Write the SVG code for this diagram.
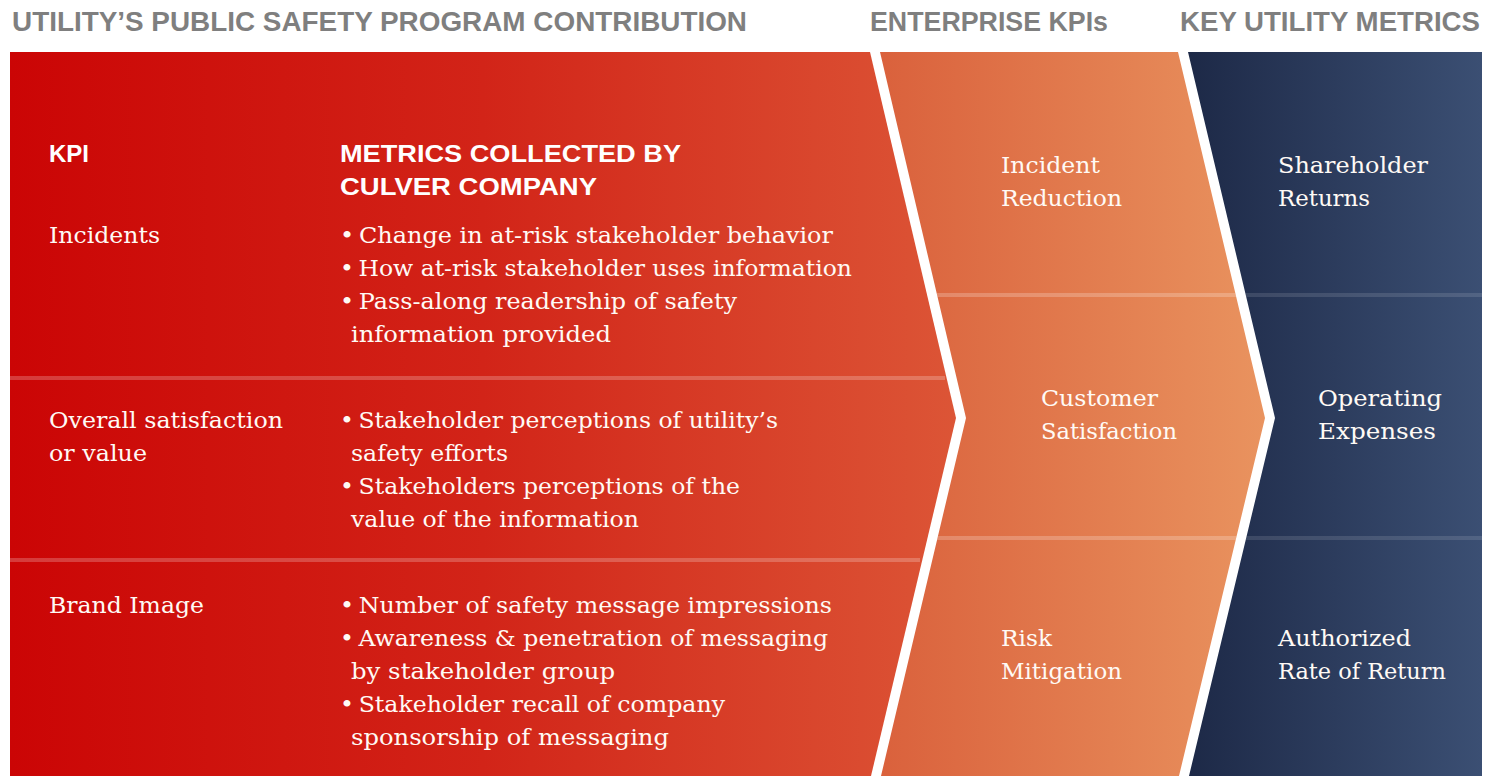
<svg xmlns="http://www.w3.org/2000/svg" width="1486" height="776" viewBox="0 0 1486 776">
  <defs>
    <linearGradient id="gRed" x1="10" y1="0" x2="956" y2="0" gradientUnits="userSpaceOnUse">
      <stop offset="0" stop-color="#cb0505"/>
      <stop offset="0.5" stop-color="#d22418"/>
      <stop offset="1" stop-color="#dc5536"/>
    </linearGradient>
    <linearGradient id="gOrange" x1="880" y1="0" x2="1265" y2="0" gradientUnits="userSpaceOnUse">
      <stop offset="0" stop-color="#da613c"/>
      <stop offset="1" stop-color="#e9935f"/>
    </linearGradient>
    <linearGradient id="gNavy" x1="1188" y1="0" x2="1482" y2="0" gradientUnits="userSpaceOnUse">
      <stop offset="0" stop-color="#1d2947"/>
      <stop offset="1" stop-color="#3b4f73"/>
    </linearGradient>
    <clipPath id="cRed"><polygon points="10,52 870,52 956,418 871,776 10,776"/></clipPath>
    <clipPath id="cOrange"><polygon points="880,52 1178,52 1265,418 1179,776 881,776 966,418"/></clipPath>
    <clipPath id="cNavy"><polygon points="1188,52 1482,52 1482,776 1189,776 1275,418"/></clipPath>
  </defs>
  <style>
    .hdr { font-family: "Liberation Sans", Arial, sans-serif; font-weight: bold; font-size: 27px; fill: #7f7f7f; }
    .colh { font-family: "Liberation Sans", Arial, sans-serif; font-weight: bold; font-size: 24px; fill: #ffffff; }
    .body { font-family: "DejaVu Serif", "Liberation Serif", serif; font-size: 23px; fill: #fffaf5; }
    .sep { fill: #ffffff; fill-opacity: 0.22; }
    .sepn { fill: #ffffff; fill-opacity: 0.12; }
  </style>

  <g id="headers">
    <text class="hdr" x="12" y="31" textLength="735" lengthAdjust="spacingAndGlyphs">UTILITY’S PUBLIC SAFETY PROGRAM CONTRIBUTION</text>
    <text class="hdr" x="870" y="31" textLength="238" lengthAdjust="spacingAndGlyphs">ENTERPRISE KPIs</text>
    <text class="hdr" x="1180" y="31" textLength="300" lengthAdjust="spacingAndGlyphs">KEY UTILITY METRICS</text>
  </g>

  <g id="panels">
    <polygon id="panel-red" points="10,52 870,52 956,418 871,776 10,776" fill="url(#gRed)"/>
    <polygon id="panel-orange" points="880,52 1178,52 1265,418 1179,776 881,776 966,418" fill="url(#gOrange)"/>
    <polygon id="panel-navy" points="1188,52 1482,52 1482,776 1189,776 1275,418" fill="url(#gNavy)"/>
    <g clip-path="url(#cRed)">
      <rect class="sep" x="10" y="376" width="935" height="4"/>
      <rect class="sep" x="10" y="558" width="910" height="4"/>
    </g>
    <g clip-path="url(#cOrange)">
      <rect class="sep" x="880" y="293" width="400" height="4"/>
      <rect class="sep" x="880" y="536" width="400" height="4"/>
    </g>
    <g clip-path="url(#cNavy)">
      <rect class="sepn" x="1188" y="293" width="300" height="4"/>
      <rect class="sepn" x="1188" y="536" width="300" height="4"/>
    </g>
  </g>

  <g id="column-headings">
    <text class="colh" x="49" y="162">KPI</text>
    <text class="colh" x="340" y="162" textLength="341" lengthAdjust="spacingAndGlyphs">METRICS COLLECTED BY</text>
    <text class="colh" x="340" y="195" textLength="257" lengthAdjust="spacingAndGlyphs">CULVER COMPANY</text>
  </g>

  <g id="row-incidents">
    <text class="body" x="49" y="243" textLength="111" lengthAdjust="spacingAndGlyphs">Incidents</text>
    <text class="body" x="340" y="243" textLength="493" lengthAdjust="spacingAndGlyphs">•&#8201;Change in at-risk stakeholder behavior</text>
    <text class="body" x="340" y="276" textLength="512" lengthAdjust="spacingAndGlyphs">•&#8201;How at-risk stakeholder uses information</text>
    <text class="body" x="340" y="309" textLength="397" lengthAdjust="spacingAndGlyphs">•&#8201;Pass-along readership of safety</text>
    <text class="body" x="351" y="342" textLength="260" lengthAdjust="spacingAndGlyphs">information provided</text>
  </g>

  <g id="row-satisfaction">
    <text class="body" x="49" y="428" textLength="234" lengthAdjust="spacingAndGlyphs">Overall satisfaction</text>
    <text class="body" x="49" y="461" textLength="98" lengthAdjust="spacingAndGlyphs">or value</text>
    <text class="body" x="340" y="428" textLength="438" lengthAdjust="spacingAndGlyphs">•&#8201;Stakeholder perceptions of utility’s</text>
    <text class="body" x="351" y="461" textLength="157" lengthAdjust="spacingAndGlyphs">safety efforts</text>
    <text class="body" x="340" y="494" textLength="400" lengthAdjust="spacingAndGlyphs">•&#8201;Stakeholders perceptions of the</text>
    <text class="body" x="351" y="527" textLength="288" lengthAdjust="spacingAndGlyphs">value of the information</text>
  </g>

  <g id="row-brand">
    <text class="body" x="49" y="613" textLength="155" lengthAdjust="spacingAndGlyphs">Brand Image</text>
    <text class="body" x="340" y="613" textLength="492" lengthAdjust="spacingAndGlyphs">•&#8201;Number of safety message impressions</text>
    <text class="body" x="340" y="646" textLength="488" lengthAdjust="spacingAndGlyphs">•&#8201;Awareness &amp; penetration of messaging</text>
    <text class="body" x="351" y="679" textLength="264" lengthAdjust="spacingAndGlyphs">by stakeholder group</text>
    <text class="body" x="340" y="712" textLength="385" lengthAdjust="spacingAndGlyphs">•&#8201;Stakeholder recall of company</text>
    <text class="body" x="351" y="745" textLength="318" lengthAdjust="spacingAndGlyphs">sponsorship of messaging</text>
  </g>

  <g id="kpi-incident-reduction">
    <text class="body" x="1001" y="173" textLength="99" lengthAdjust="spacingAndGlyphs">Incident</text>
    <text class="body" x="1001" y="206" textLength="121" lengthAdjust="spacingAndGlyphs">Reduction</text>
  </g>
  <g id="kpi-customer-satisfaction">
    <text class="body" x="1041" y="406" textLength="117" lengthAdjust="spacingAndGlyphs">Customer</text>
    <text class="body" x="1041" y="439" textLength="136" lengthAdjust="spacingAndGlyphs">Satisfaction</text>
  </g>
  <g id="kpi-risk-mitigation">
    <text class="body" x="1001" y="646" textLength="51" lengthAdjust="spacingAndGlyphs">Risk</text>
    <text class="body" x="1001" y="679" textLength="121" lengthAdjust="spacingAndGlyphs">Mitigation</text>
  </g>

  <g id="metric-shareholder-returns">
    <text class="body" x="1278" y="173" textLength="150" lengthAdjust="spacingAndGlyphs">Shareholder</text>
    <text class="body" x="1278" y="206" textLength="92" lengthAdjust="spacingAndGlyphs">Returns</text>
  </g>
  <g id="metric-operating-expenses">
    <text class="body" x="1318" y="406" textLength="124" lengthAdjust="spacingAndGlyphs">Operating</text>
    <text class="body" x="1318" y="439" textLength="118" lengthAdjust="spacingAndGlyphs">Expenses</text>
  </g>
  <g id="metric-authorized-return">
    <text class="body" x="1278" y="646" textLength="133" lengthAdjust="spacingAndGlyphs">Authorized</text>
    <text class="body" x="1278" y="679" textLength="168" lengthAdjust="spacingAndGlyphs">Rate of Return</text>
  </g>
</svg>
